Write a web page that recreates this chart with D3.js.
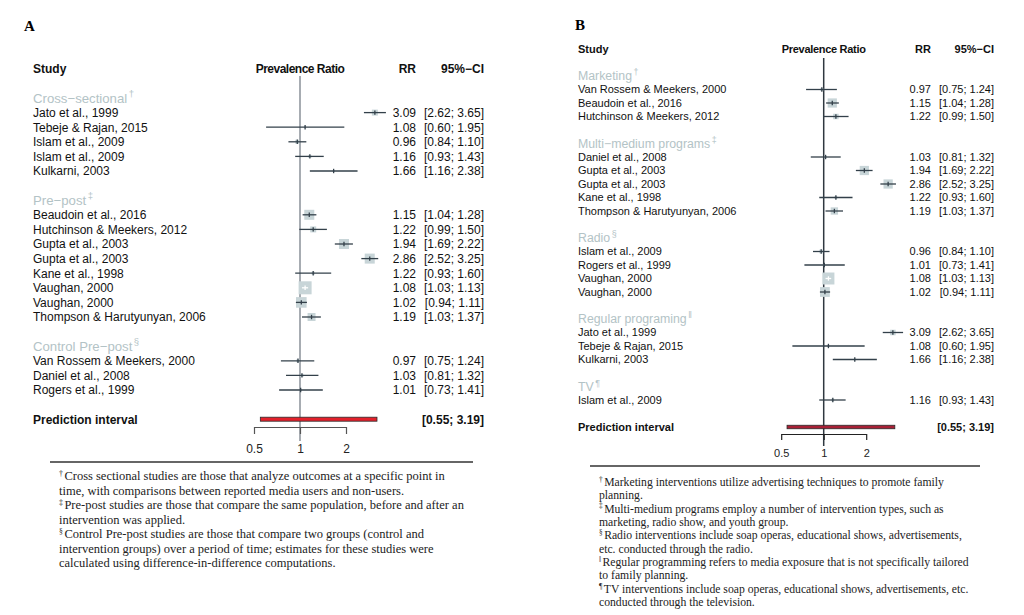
<!DOCTYPE html>
<html>
<head>
<meta charset="UTF-8">
<title></title>
<style>
    body { margin: 0; background: #fff; }
    svg { display: block; }
    .sans { font-family: "Liberation Sans", Arial, sans-serif; }
    .serif { font-family: "Liberation Serif", "Times New Roman", serif; }
</style>
<script src="https://cdnjs.cloudflare.com/ajax/libs/d3/7.8.5/d3.min.js"></script>
</head>
<body>
<svg id="chart" width="1024" height="615"></svg>
<script>
    // study level data (same studies in both panels)
    var studies = ["Jato et al., 1999", "Tebeje & Rajan, 2015", "Islam et al., 2009", "Islam et al., 2009",
        "Kulkarni, 2003", "Beaudoin et al., 2016", "Hutchinson & Meekers, 2012", "Gupta et al., 2003",
        "Gupta et al., 2003", "Kane et al., 1998", "Vaughan, 2000", "Vaughan, 2000",
        "Thompson & Harutyunyan, 2006", "Van Rossem & Meekers, 2000", "Daniel et al., 2008", "Rogers et al., 1999"];
    var rr    = [3.09, 1.08, 0.96, 1.16, 1.66, 1.15, 1.22, 1.94, 2.86, 1.22, 1.08, 1.02, 1.19, 0.97, 1.03, 1.01];
    var lower = [2.62, 0.60, 0.84, 0.93, 1.16, 1.04, 0.99, 1.69, 2.52, 0.93, 1.03, 0.94, 1.03, 0.75, 0.81, 0.73];
    var upper = [3.65, 1.95, 1.10, 1.43, 2.38, 1.28, 1.50, 2.22, 3.25, 1.60, 1.13, 1.11, 1.37, 1.24, 1.32, 1.41];
    var weight = [3.5, 0.4, 1.6, 0.9, 0.4, 9.8, 3.5, 9.8, 9.8, 0.9, 16.5, 11.0, 6.2, 0.9, 0.9, 0.4];

    var predInterval = [0.55, 3.19];
    var axisTicks = [0.5, 1, 2];

    // panel A: by study design
    var designGroups = ["Cross\u2212sectional", "Pre\u2212post", "Control Pre\u2212post"];
    var designMarks = ["\u2020", "\u2021", "\u00a7"];
    var designRows = [[0, 1, 2, 3, 4], [5, 6, 7, 8, 9, 10, 11, 12], [13, 14, 15]];

    // panel B: by media type
    var mediaGroups = ["Marketing", "Multi\u2212medium programs", "Radio", "Regular programing", "TV"];
    var mediaMarks = ["\u2020", "\u2021", "\u00a7", "\u2016", "\u00b6"];
    var mediaRows = [[13, 5, 6], [14, 7, 8, 9, 12], [2, 15, 10, 11], [0, 1, 4], [3]];

    var notesA = [
        ["\u2020", "Cross sectional studies are those that analyze outcomes at a specific point in"],
        ["", "time, with comparisons between reported media users and non-users."],
        ["\u2021", "Pre-post studies are those that compare the same population, before and after an"],
        ["", "intervention was applied."],
        ["\u00a7", "Control Pre-post studies are those that compare two groups (control and"],
        ["", "intervention groups) over a period of time; estimates for these studies were"],
        ["", "calculated using difference-in-difference computations."]
    ];
    var notesB = [
        ["\u2020", "Marketing interventions utilize advertising techniques to promote family"],
        ["", "planning."],
        ["\u2021", "Multi-medium programs employ a number of intervention types, such as"],
        ["", "marketing, radio show, and youth group."],
        ["\u00a7", "Radio interventions include soap operas, educational shows, advertisements,"],
        ["", "etc. conducted through the radio."],
        ["\u2016", "Regular programming refers to media exposure that is not specifically tailored"],
        ["", "to family planning."],
        ["\u00b6", "TV interventions include soap operas, educational shows, advertisements, etc."],
        ["", "conducted through the television."]
    ];

    var svg = d3.select("#chart");
    var f2 = d3.format(".2f");

    function drawPanel(p, groups, marks, rows, notes) {
        var g = svg.append("g");
        var x = d3.scaleLog().base(2).domain([0.5, 2]).range([p.x05, p.x2]);
        var y = d3.scaleLinear().domain([0, 1]).range([p.top, p.top + p.step]);
        // baseline for a text centred on a row
        function base(line, fs) { return y(line) + fs * 0.36; }

        // panel letter
        g.append("text").attr("class", "serif")
                .attr("x", p.letterX).attr("y", p.letterY)
                .attr("font-size", 15).attr("font-weight", "bold")
                .text(p.letter);

        // column headers
        var hdr = g.append("g").attr("class", "sans").attr("font-weight", "bold")
                .attr("font-size", p.fs).attr("fill", "#111");
        hdr.append("text").attr("x", p.studyX).attr("y", base(-2, p.fs)).text("Study");
        hdr.append("text").attr("x", x(1)).attr("y", base(-2, p.fs))
                .attr("text-anchor", "middle").attr("letter-spacing", p.ls).text("Prevalence Ratio");
        hdr.append("text").attr("x", p.rrX).attr("y", base(-2, p.fs))
                .attr("text-anchor", "end").text("RR");
        hdr.append("text").attr("x", p.ciX).attr("y", base(-2, p.fs))
                .attr("text-anchor", "end").text("95%\u2212CI");

        // reference line at 1
        g.append("line").attr("x1", x(1)).attr("x2", x(1))
                .attr("y1", p.refTop).attr("y2", p.refBot)
                .attr("stroke", p.refCol).attr("stroke-width", 1.5);

        // lay out lines: group header, studies, blank
        var items = [];
        var line = 0;
        groups.forEach(function (name, gi) {
            items.push({type: "group", name: name, mark: marks[gi], line: line});
            line++;
            rows[gi].forEach(function (i) {
                items.push({type: "study", i: i, line: line});
                line++;
            });
            line++;
        });
        var predLine = line;

        var grp = items.filter(function (d) { return d.type === "group"; });
        var gt = g.selectAll("text.grp").data(grp).enter().append("text")
                .attr("class", "sans grp")
                .attr("x", p.studyX)
                .attr("y", function (d) { return base(d.line, p.gfs); })
                .attr("font-size", p.gfs)
                .attr("fill", "#b3c3c6");
        gt.append("tspan").text(function (d) { return d.name; });
        gt.append("tspan").attr("font-size", p.gfs * 0.72).attr("dy", "-0.6em").attr("dx", 1.5)
                .text(function (d) { return d.mark; });

        var st = items.filter(function (d) { return d.type === "study"; });
        var row = g.selectAll("g.row").data(st).enter().append("g")
                .attr("class", "row sans")
                .attr("font-size", p.fs).attr("fill", "#111");

        row.append("text").attr("x", p.studyX)
                .attr("y", function (d) { return base(d.line, p.fs); })
                .text(function (d) { return studies[d.i]; });
        row.append("text").attr("x", p.rrX).attr("text-anchor", "end")
                .attr("y", function (d) { return base(d.line, p.fs); })
                .text(function (d) { return f2(rr[d.i]); });
        row.append("text").attr("x", p.ciX).attr("text-anchor", "end")
                .attr("y", function (d) { return base(d.line, p.fs); })
                .text(function (d) { return "[" + f2(lower[d.i]) + "; " + f2(upper[d.i]) + "]"; });

        function side(d) { return p.box * Math.sqrt(weight[d.i]); }
        row.append("rect")
                .attr("x", function (d) { return x(rr[d.i]) - side(d) / 2; })
                .attr("y", function (d) { return y(d.line) - side(d) / 2; })
                .attr("width", side).attr("height", side)
                .attr("fill", "#c8d5d8");
        function ciCol(d) {
            var inside = x(lower[d.i]) > x(rr[d.i]) - side(d) / 2 && x(upper[d.i]) < x(rr[d.i]) + side(d) / 2;
            return inside ? "#fff" : "#33404a";
        }
        row.append("line")
                .attr("x1", function (d) { return x(lower[d.i]); })
                .attr("x2", function (d) { return x(upper[d.i]); })
                .attr("y1", function (d) { return y(d.line); })
                .attr("y2", function (d) { return y(d.line); })
                .attr("stroke", ciCol).attr("stroke-width", 1.3);
        row.append("line")
                .attr("x1", function (d) { return x(rr[d.i]); })
                .attr("x2", function (d) { return x(rr[d.i]); })
                .attr("y1", function (d) { return y(d.line) - 2.2; })
                .attr("y2", function (d) { return y(d.line) + 2.2; })
                .attr("stroke", ciCol).attr("stroke-width", 1.3);

        // prediction interval
        var py = y(predLine);
        g.append("text").attr("class", "sans").attr("font-weight", "bold").attr("font-size", p.fs)
                .attr("x", p.studyX).attr("y", base(predLine, p.fs)).attr("fill", "#111")
                .text("Prediction interval");
        g.append("rect")
                .attr("x", x(predInterval[0])).attr("y", py - p.predH / 2)
                .attr("width", x(predInterval[1]) - x(predInterval[0])).attr("height", p.predH)
                .attr("fill", p.predCol).attr("stroke", "#2a2a2a").attr("stroke-width", 0.8);
        g.append("text").attr("class", "sans").attr("font-weight", "bold").attr("font-size", p.fs)
                .attr("x", p.ciX).attr("y", base(predLine, p.fs)).attr("text-anchor", "end").attr("fill", "#111")
                .text("[" + f2(predInterval[0]) + "; " + f2(predInterval[1]) + "]");

        // x axis
        var ax = g.append("g").attr("class", "sans")
                .attr("transform", "translate(0," + p.axisY + ")")
                .call(d3.axisBottom(x).tickValues(axisTicks).tickFormat(d3.format(""))
                        .tickSizeInner(p.tick).tickSizeOuter(0).tickPadding(p.tickPad));
        ax.selectAll("path, line").attr("stroke", p.axisCol).attr("stroke-width", 1.2);
        ax.selectAll("text").attr("font-size", p.fs).attr("fill", "#222")
                .attr("font-family", "Liberation Sans, Arial, sans-serif");

        // rule and footnotes
        g.append("line").attr("x1", p.ruleX1).attr("x2", p.ruleX2)
                .attr("y1", p.ruleY).attr("y2", p.ruleY)
                .attr("stroke", "#333").attr("stroke-width", 1.3);
        var nt = g.selectAll("text.note").data(notes).enter().append("text")
                .attr("class", "serif note")
                .attr("x", p.noteX)
                .attr("y", function (d, k) { return p.noteY + k * p.noteStep + p.noteFs * 0.33; })
                .attr("font-size", p.noteFs).attr("fill", "#222");
        nt.filter(function (d) { return d[0]; })
                .append("tspan").attr("font-size", p.noteFs * 0.62).attr("dy", -p.noteFs * 0.35)
                .text(function (d) { return d[0]; });
        nt.append("tspan")
                .attr("dy", function (d) { return d[0] ? p.noteFs * 0.35 : 0; })
                .attr("dx", function (d) { return d[0] ? 1.5 : 0; })
                .text(function (d) { return d[1]; });
    }

    drawPanel({
        letter: "A", letterX: 24, letterY: 31,
        top: 98, step: 14.6, fs: 12, gfs: 13.2, ls: -0.5,
        studyX: 33, rrX: 416, ciX: 484,
        x05: 254, x2: 346,
        refTop: 76, refBot: 441, refCol: "#8a9098",
        box: 3.2, predH: 4, predCol: "#e3212b",
        axisY: 427, tick: 7, tickPad: 10, axisCol: "#555",
        ruleX1: 50, ruleX2: 473, ruleY: 462,
        noteX: 59, noteY: 476, noteStep: 14.5, noteFs: 12.5
    }, designGroups, designMarks, designRows, notesA);

    drawPanel({
        letter: "B", letterX: 575, letterY: 30,
        top: 76, step: 13.5, fs: 11, gfs: 12.3, ls: -0.3,
        studyX: 578, rrX: 931, ciX: 994,
        x05: 781.2, x2: 866.2,
        refTop: 58, refBot: 446, refCol: "#2f3840",
        box: 2.95, predH: 3.5, predCol: "#a82036",
        axisY: 434, tick: 6, tickPad: 9, axisCol: "#222",
        ruleX1: 590, ruleX2: 980, ruleY: 466,
        noteX: 599, noteY: 482, noteStep: 13.35, noteFs: 11.7
    }, mediaGroups, mediaMarks, mediaRows, notesB);
</script>
</body>
</html>
